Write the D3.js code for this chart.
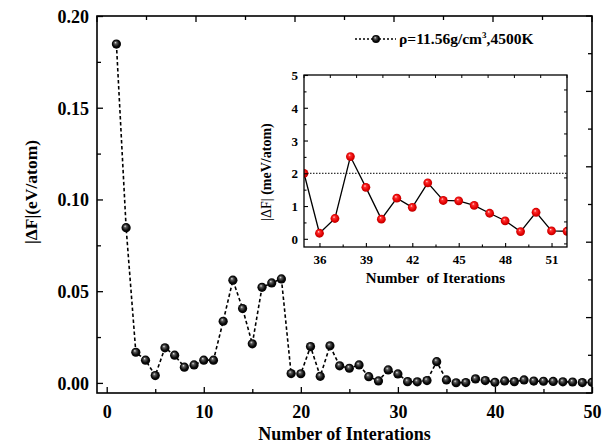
<!DOCTYPE html>
<html lang='en'>
  <head>
    <meta charset='utf-8'>
    <title>Free energy convergence</title>
    <style>
      body { margin: 0; background: white; }
      svg text { font-family: "Liberation Serif", "Times New Roman", serif; font-weight: bold; fill: black; }
      .axis path, .axis line { stroke: black; }
    </style>
  </head>
  <body>
    <div id="container"></div>
    <script src='https://cdnjs.cloudflare.com/ajax/libs/d3/7.8.5/d3.min.js'></script>
    <script>
      // main series: iteration 1..50, |dF| in eV/atom
      var iterations = d3.range(1, 51);
      var deltaF = [0.1847, 0.0846, 0.0167, 0.0124, 0.0040, 0.0191, 0.0151, 0.0086, 0.0098, 0.0124,
                    0.0124, 0.0336, 0.0560, 0.0405, 0.0213, 0.0521, 0.0545, 0.0567, 0.0051, 0.0050,
                    0.0198, 0.0036, 0.0202, 0.0093, 0.0080, 0.0098, 0.0034, 0.0011, 0.0071, 0.0049,
                    0.0007, 0.0006, 0.0013, 0.0116, 0.0016, 0.0001, 0.0002, 0.0022, 0.0013, 0.0003,
                    0.0011, 0.0007, 0.0016, 0.0010, 0.0009, 0.0008, 0.0006, 0.0005, 0.0002, 0.0003];
      // inset: iteration 35..52, |dF| in meV/atom
      var insetIter = d3.range(35, 53);
      var insetDF = [2.0, 0.17, 0.62, 2.51, 1.57, 0.60, 1.24, 0.96, 1.71, 1.17,
                     1.16, 1.02, 0.78, 0.55, 0.22, 0.81, 0.24, 0.23];
      var insetLevel = 2.0;

      var xTicks = [0, 10, 20, 30, 40, 50];
      var yTicks = [0, 0.05, 0.10, 0.15, 0.20];
      var insetXTicks = [36, 39, 42, 45, 48, 51];
      var insetYTicks = [0, 1, 2, 3, 4, 5];
      var legendLabel = "ρ=11.56g/cm";

      var w = 611, h = 445;
      var box = {left: 97, right: 592, top: 16, bottom: 393};
      var ibox = {left: 304, right: 567, top: 75, bottom: 247};

      var svg = d3.select("#container").append("svg")
        .attr("width", w)
        .attr("height", h);

      var defs = svg.append("defs");
      var gBlack = defs.append("radialGradient").attr("id", "ballBlack")
        .attr("cx", "50%").attr("cy", "50%").attr("r", "55%").attr("fx", "38%").attr("fy", "32%");
      gBlack.append("stop").attr("offset", "0%").attr("stop-color", "#e6e6e6");
      gBlack.append("stop").attr("offset", "25%").attr("stop-color", "#5a5a5a");
      gBlack.append("stop").attr("offset", "65%").attr("stop-color", "#0a0a0a");
      gBlack.append("stop").attr("offset", "100%").attr("stop-color", "#000");
      var gRed = defs.append("radialGradient").attr("id", "ballRed")
        .attr("cx", "50%").attr("cy", "50%").attr("r", "55%").attr("fx", "38%").attr("fy", "32%");
      gRed.append("stop").attr("offset", "0%").attr("stop-color", "#ffe0e0");
      gRed.append("stop").attr("offset", "25%").attr("stop-color", "#ff3030");
      gRed.append("stop").attr("offset", "70%").attr("stop-color", "#e00000");
      gRed.append("stop").attr("offset", "100%").attr("stop-color", "#b00000");

      defs.append("clipPath").attr("id", "clipMain").append("rect")
        .attr("x", box.left).attr("y", box.top)
        .attr("width", box.right - box.left).attr("height", box.bottom - box.top);
      defs.append("clipPath").attr("id", "clipInset").append("rect")
        .attr("x", ibox.left).attr("y", ibox.top)
        .attr("width", ibox.right - ibox.left).attr("height", ibox.bottom - ibox.top);

      // ---- main plot ----
      var xScale = d3.scaleLinear().domain([-1, 50]).range([box.left, box.right]);
      var yScale = d3.scaleLinear().domain([-0.0055, 0.2]).range([box.bottom, box.top]);
      // top and right frame axes use their own 10 divisions
      var topScale = d3.scaleLinear().domain([0, 10]).range([box.left, box.right]);
      var rightScale = d3.scaleLinear().domain([0, 10]).range([box.bottom, box.top]);

      var data = iterations.map(function(d, i) { return {x: d, y: deltaF[i]}; });

      var plot = svg.append("g").attr("clip-path", "url(#clipMain)");
      plot.append("path")
        .datum(data)
        .attr("fill", "none")
        .attr("stroke", "black")
        .attr("stroke-width", 1.6)
        .attr("stroke-dasharray", "3.5,2.5")
        .attr("d", d3.line().x(function(d) { return xScale(d.x); }).y(function(d) { return yScale(d.y); }));
      plot.selectAll("circle")
        .data(data)
        .enter()
        .append("circle")
        .attr("cx", function(d) { return xScale(d.x); })
        .attr("cy", function(d) { return yScale(d.y); })
        .attr("r", 4.6)
        .attr("fill", "url(#ballBlack)");

      function frameTicks(g, scale, n, side, majorLen, minorLen) {
        for (var k = 0; k <= n; k++) {
          var len = (k % 2 === 0) ? majorLen : minorLen;
          var p = scale(k);
          if (side === "top") g.append("line").attr("x1", p).attr("x2", p).attr("y1", 0).attr("y2", len);
          else g.append("line").attr("x1", 0).attr("x2", -len).attr("y1", p).attr("y2", p);
        }
        g.selectAll("line").attr("stroke", "black").attr("stroke-width", 1.3);
      }

      var xAxis = d3.axisBottom(xScale).tickValues(xTicks).tickFormat(d3.format("d")).tickSizeInner(-6).tickSizeOuter(0).tickPadding(12);
      var xMinor = d3.axisBottom(xScale).tickValues([5, 15, 25, 35, 45]).tickFormat("").tickSizeInner(-4).tickSizeOuter(0);
      var yAxis = d3.axisLeft(yScale).tickValues(yTicks).tickFormat(d3.format(".2f")).tickSizeInner(-6).tickSizeOuter(0).tickPadding(8);
      var yMinor = d3.axisLeft(yScale).tickValues([0.025, 0.075, 0.125, 0.175]).tickFormat("").tickSizeInner(-4).tickSizeOuter(0);

      var gx = svg.append("g").attr("class", "axis").attr("transform", "translate(0," + box.bottom + ")").call(xAxis);
      svg.append("g").attr("class", "axis").attr("transform", "translate(0," + box.bottom + ")").call(xMinor);
      var gy = svg.append("g").attr("class", "axis").attr("transform", "translate(" + box.left + ",0)").call(yAxis);
      svg.append("g").attr("class", "axis").attr("transform", "translate(" + box.left + ",0)").call(yMinor);
      frameTicks(svg.append("g").attr("transform", "translate(0," + box.top + ")"), topScale, 10, "top", 6, 4);
      frameTicks(svg.append("g").attr("transform", "translate(" + box.right + ",0)"), rightScale, 10, "right", 6, 4);

      svg.selectAll(".axis line").attr("stroke-width", 1.3);
      svg.selectAll(".axis .domain").remove();
      gx.selectAll("text").style("font-size", "18px");
      gy.selectAll("text").style("font-size", "18px").attr("dy", "0.35em");

      svg.append("rect")
        .attr("x", box.left).attr("y", box.top)
        .attr("width", box.right - box.left).attr("height", box.bottom - box.top)
        .attr("fill", "none").attr("stroke", "black").attr("stroke-width", 1.6);

      svg.append("text")
        .attr("x", (box.left + box.right) / 2).attr("y", 440)
        .attr("text-anchor", "middle").style("font-size", "18px")
        .text("Number of Interations");
      svg.append("text")
        .attr("transform", "translate(37,192) rotate(-90)")
        .attr("text-anchor", "middle").style("font-size", "17.5px")
        .text("|ΔF|(eV/atom)");

      // legend
      var legend = svg.append("g");
      legend.append("line").attr("x1", 355).attr("x2", 396).attr("y1", 39).attr("y2", 39)
        .attr("stroke", "black").attr("stroke-width", 1.4).attr("stroke-dasharray", "2,2");
      legend.append("circle").attr("cx", 376).attr("cy", 39).attr("r", 4).attr("fill", "url(#ballBlack)");
      var lt = legend.append("text").attr("x", 399).attr("y", 44).style("font-size", "15.5px");
      lt.append("tspan").text(legendLabel);
      lt.append("tspan").attr("dy", "-6").style("font-size", "9px").text("3");
      lt.append("tspan").attr("dy", "6").text(",4500K");

      // ---- inset ----
      var ix = d3.scaleLinear().domain([35, 52]).range([ibox.left, ibox.right]);
      var iy = d3.scaleLinear().domain([-0.25, 5]).range([ibox.bottom, ibox.top]);
      var itop = d3.scaleLinear().domain([0, 10]).range([ibox.left, ibox.right]);
      var iright = d3.scaleLinear().domain([-0.14, 7.68]).range([ibox.bottom, ibox.top]);

      svg.append("rect")
        .attr("x", ibox.left).attr("y", ibox.top)
        .attr("width", ibox.right - ibox.left).attr("height", ibox.bottom - ibox.top)
        .attr("fill", "white");

      var idata = insetIter.map(function(d, i) { return {x: d, y: insetDF[i]}; });
      var iplot = svg.append("g").attr("clip-path", "url(#clipInset)");
      iplot.append("line")
        .attr("x1", ibox.left).attr("x2", ibox.right)
        .attr("y1", iy(insetLevel)).attr("y2", iy(insetLevel))
        .attr("stroke", "black").attr("stroke-width", 1).attr("stroke-dasharray", "1.5,1.5");
      iplot.append("path")
        .datum(idata)
        .attr("fill", "none")
        .attr("stroke", "black")
        .attr("stroke-width", 1.3)
        .attr("d", d3.line().x(function(d) { return ix(d.x); }).y(function(d) { return iy(d.y); }));
      iplot.selectAll("circle")
        .data(idata)
        .enter()
        .append("circle")
        .attr("cx", function(d) { return ix(d.x); })
        .attr("cy", function(d) { return iy(d.y); })
        .attr("r", 4.4)
        .attr("fill", "url(#ballRed)");

      var ixAxis = d3.axisBottom(ix).tickValues(insetXTicks).tickFormat(d3.format("d")).tickSizeInner(-4).tickSizeOuter(0).tickPadding(8);
      var ixMinor = d3.axisBottom(ix).tickValues([37.5, 40.5, 43.5, 46.5, 49.5]).tickFormat("").tickSizeInner(-2.5).tickSizeOuter(0);
      var iyAxis = d3.axisLeft(iy).tickValues(insetYTicks).tickFormat(d3.format("d")).tickSizeInner(-4).tickSizeOuter(0).tickPadding(6);
      var iyMinor = d3.axisLeft(iy).tickValues([0.5, 1.5, 2.5, 3.5, 4.5]).tickFormat("").tickSizeInner(-2.5).tickSizeOuter(0);

      var gix = svg.append("g").attr("class", "axis inset").attr("transform", "translate(0," + ibox.bottom + ")").call(ixAxis);
      svg.append("g").attr("class", "axis inset").attr("transform", "translate(0," + ibox.bottom + ")").call(ixMinor);
      var giy = svg.append("g").attr("class", "axis inset").attr("transform", "translate(" + ibox.left + ",0)").call(iyAxis);
      svg.append("g").attr("class", "axis inset").attr("transform", "translate(" + ibox.left + ",0)").call(iyMinor);
      svg.selectAll(".inset .domain").remove();
      svg.selectAll(".inset line").attr("stroke-width", 1.1);
      gix.selectAll("text").style("font-size", "13px");
      giy.selectAll("text").style("font-size", "13px").attr("dy", "0.35em");

      var ti = svg.append("g").attr("transform", "translate(0," + ibox.top + ")");
      frameTicks(ti, itop, 10, "top", 3, 3);
      ti.selectAll("line").attr("stroke-width", 1);
      var ri = svg.append("g").attr("transform", "translate(" + ibox.right + ",0)");
      for (var k = 0; k <= 7; k++) {
        ri.append("line").attr("x1", 0).attr("x2", -3).attr("y1", iright(k)).attr("y2", iright(k))
          .attr("stroke", "black").attr("stroke-width", 1);
      }

      svg.append("rect")
        .attr("x", ibox.left).attr("y", ibox.top)
        .attr("width", ibox.right - ibox.left).attr("height", ibox.bottom - ibox.top)
        .attr("fill", "none").attr("stroke", "black").attr("stroke-width", 1.3);

      svg.append("text")
        .attr("x", (ibox.left + ibox.right) / 2).attr("y", 283)
        .attr("text-anchor", "middle").style("font-size", "15px")
        .attr("xml:space", "preserve").style("white-space", "pre")
        .text("Number  of Iterations");
      var iyt = svg.append("text")
        .attr("transform", "translate(271,172) rotate(-90)")
        .attr("text-anchor", "middle").style("font-size", "14px")
        .style("white-space", "pre");
      iyt.append("tspan").style("font-weight", "normal").text("|ΔF| ");
      iyt.append("tspan").text("(meV/atom)");
    </script>
  </body>
</html>
